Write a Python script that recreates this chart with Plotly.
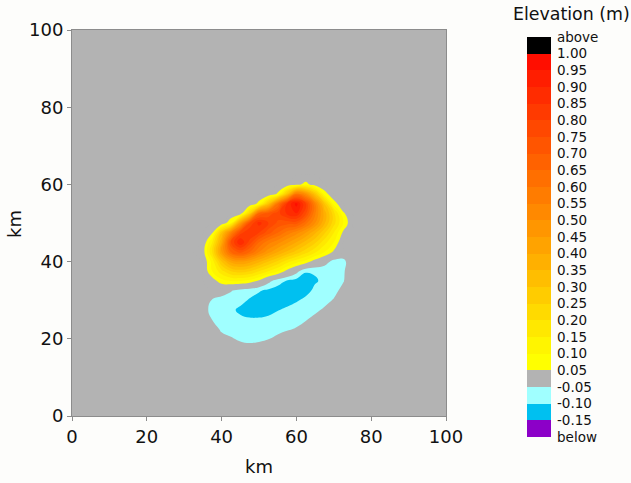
import plotly.graph_objects as go

# ---- grid (km); the 0 and 100 rows/columns are the flat background (0 m) ----
x_km = [0, 30, 32.5, 35, 37.5, 40, 42.5, 45, 47.5, 50, 52.5, 55, 57.5, 60, 62.5, 65, 67.5, 70, 72.5, 75, 77.5, 100]
y_km = [0, 15, 17.5, 20, 22.5, 25, 27.5, 30, 32.5, 35, 37.5, 40, 42.5, 45, 47.5, 50, 52.5, 55, 57.5, 60, 62.5, 65, 100]

# elevation (m), one row per y value
elev_y0 = [0, 0, 0, 0, 0, 0, 0, 0, 0, 0, 0, 0, 0, 0, 0, 0, 0, 0, 0, 0, 0, 0]
elev_y15 = [0, 0, 0, 0, 0, 0, 0, 0, 0, 0, 0, 0, 0, 0, 0, 0, 0, 0, 0, 0, 0, 0]
elev_y17 = [0, 0, 0, 0, 0, 0, -0.01, -0.03, -0.035, -0.03, -0.02, -0.01, 0, 0, 0, 0, 0, 0, 0, 0, 0, 0]
elev_y20 = [0, 0, 0, 0, -0.01, -0.03, -0.045, -0.058, -0.062, -0.06, -0.052, -0.04, -0.02, 0, 0, 0, 0, 0, 0, 0, 0, 0]
elev_y22 = [0, 0, 0, 0, -0.02, -0.06, -0.07, -0.075, -0.075, -0.072, -0.068, -0.062, -0.056, -0.045, -0.02, 0, 0, 0, 0, 0, 0, 0]
elev_y25 = [0, 0, 0, 0, -0.052, -0.07, -0.08, -0.09, -0.095, -0.095, -0.09, -0.085, -0.08, -0.07, -0.055, -0.03, 0, 0, 0, 0, 0, 0]
elev_y27 = [0, 0, 0, -0.01, -0.08, -0.08, -0.09, -0.11, -0.12, -0.12, -0.115, -0.102, -0.09, -0.08, -0.07, -0.065, -0.04, 0, 0, 0, 0, 0]
elev_y30 = [0, 0, 0, 0, -0.055, -0.07, -0.08, -0.085, -0.105, -0.12, -0.13, -0.13, -0.12, -0.105, -0.09, -0.08, -0.07, -0.045, 0, 0, 0, 0]
elev_y32 = [0, 0, 0, 0, 0, -0.02, -0.045, -0.07, -0.08, -0.095, -0.11, -0.12, -0.13, -0.13, -0.115, -0.09, -0.08, -0.07, -0.03, 0, 0, 0]
elev_y35 = [0, 0, 0, 0, 0.02, 0.08, 0.1, 0.1, 0.08, 0.04, -0.03, -0.08, -0.105, -0.12, -0.125, -0.105, -0.09, -0.08, -0.055, 0, 0, 0]
elev_y37 = [0, 0, 0, 0, 0.1, 0.18, 0.25, 0.27, 0.25, 0.2, 0.15, 0.1, 0.03, -0.03, -0.095, -0.095, -0.09, -0.08, -0.06, 0, 0, 0]
elev_y40 = [0, 0, 0, 0, 0.12, 0.3, 0.42, 0.45, 0.42, 0.36, 0.3, 0.24, 0.17, 0.12, 0.08, 0.02, -0.02, -0.07, -0.07, 0, 0, 0]
elev_y42 = [0, 0, 0, 0.02, 0.2, 0.45, 0.65, 0.72, 0.65, 0.55, 0.47, 0.4, 0.34, 0.28, 0.22, 0.16, 0.1, 0.04, 0, 0, 0, 0]
elev_y45 = [0, 0, 0, 0, 0.15, 0.4, 0.75, 0.9, 0.78, 0.65, 0.57, 0.52, 0.46, 0.4, 0.33, 0.26, 0.17, 0.1, 0, 0, 0, 0]
elev_y47 = [0, 0, 0, 0, 0.04, 0.3, 0.55, 0.78, 0.85, 0.8, 0.72, 0.65, 0.58, 0.52, 0.45, 0.36, 0.26, 0.15, 0.04, 0, 0, 0]
elev_y50 = [0, 0, 0, 0, 0, 0, 0.1, 0.45, 0.75, 0.87, 0.8, 0.74, 0.72, 0.72, 0.62, 0.5, 0.36, 0.22, 0.1, 0, 0, 0]
elev_y52 = [0, 0, 0, 0, 0, 0, 0, 0, 0.25, 0.65, 0.72, 0.78, 0.86, 0.9, 0.76, 0.56, 0.38, 0.22, 0.06, 0, 0, 0]
elev_y55 = [0, 0, 0, 0, 0, 0, 0, 0, 0, 0.07, 0.3, 0.6, 0.85, 0.97, 0.8, 0.55, 0.3, 0.08, 0, 0, 0, 0]
elev_y57 = [0, 0, 0, 0, 0, 0, 0, 0, 0, 0, 0, 0.06, 0.3, 0.6, 0.5, 0.3, 0.08, 0, 0, 0, 0, 0]
elev_y60 = [0, 0, 0, 0, 0, 0, 0, 0, 0, 0, 0, 0, 0, 0.03, 0.07, 0.02, 0, 0, 0, 0, 0, 0]
elev_y62 = [0, 0, 0, 0, 0, 0, 0, 0, 0, 0, 0, 0, 0, 0, 0, 0, 0, 0, 0, 0, 0, 0]
elev_y65 = [0, 0, 0, 0, 0, 0, 0, 0, 0, 0, 0, 0, 0, 0, 0, 0, 0, 0, 0, 0, 0, 0]
elev_y100 = [0, 0, 0, 0, 0, 0, 0, 0, 0, 0, 0, 0, 0, 0, 0, 0, 0, 0, 0, 0, 0, 0]

elevation = [elev_y0, elev_y15, elev_y17, elev_y20, elev_y22, elev_y25, elev_y27, elev_y30,
             elev_y32, elev_y35, elev_y37, elev_y40, elev_y42, elev_y45, elev_y47,
             elev_y50, elev_y52, elev_y55, elev_y57, elev_y60, elev_y62, elev_y65, elev_y100]

axis_ticks = [0, 20, 40, 60, 80, 100]

# ---- colour classes ----
c_below = "rgb(140,0,200)"
c_m15 = "rgb(0,192,240)"
c_m10 = "rgb(160,255,255)"
c_zero = "rgb(179,179,179)"
c_above = "rgb(0,0,0)"
ramp = ["rgb(255,255,0)", "rgb(255,245,0)", "rgb(255,232,0)", "rgb(255,218,0)",
        "rgb(255,204,0)", "rgb(255,190,0)", "rgb(255,176,0)", "rgb(255,163,0)",
        "rgb(255,150,0)", "rgb(255,137,0)", "rgb(255,124,0)", "rgb(255,111,0)",
        "rgb(255,98,0)", "rgb(255,85,0)", "rgb(255,72,0)", "rgb(255,58,0)",
        "rgb(255,44,0)", "rgb(255,30,0)", "rgb(255,14,0)"]

legend_labels = ["below", "-0.15", "-0.10", "-0.05", "0.05", "0.10", "0.15", "0.20",
                 "0.25", "0.30", "0.35", "0.40", "0.45", "0.50", "0.55", "0.60",
                 "0.65", "0.70", "0.75", "0.80", "0.85", "0.90", "0.95", "1.00", "above"]

# contour bands: below -0.15, then every 0.05 up to 1.00, then above
contour_colors = [c_below, c_m15, c_m10, c_zero, c_zero] + ramp + [c_above]
nb = len(contour_colors) - 1
contour_scale = [[i / nb, c] for i, c in enumerate(contour_colors)]

# legend classes (gray class spans -0.05..0.05)
legend_colors = [c_below, c_m15, c_m10, c_zero] + ramp + [c_above]
nl = len(legend_colors) - 1
legend_scale = []
for i, c in enumerate(legend_colors):
    legend_scale.append([i / (nl + 1), c])
    legend_scale.append([(i + 1) / (nl + 1), c])
legend_idx = list(range(len(legend_colors)))

FONT = "DejaVu Sans"
fig = go.Figure()

fig.add_trace(go.Contour(
    x=x_km, y=y_km, z=elevation,
    autocontour=False,
    contours=dict(start=-0.15, end=1.0, size=0.05, coloring="fill", showlines=False),
    colorscale=contour_scale,
    line=dict(width=0, smoothing=1.3),
    showscale=False, hoverinfo="skip",
    xaxis="x", yaxis="y",
))

fig.add_trace(go.Heatmap(
    x=[0], y=[i + 0.5 for i in legend_idx], z=[[i] for i in legend_idx],
    colorscale=legend_scale, zmin=-0.5, zmax=nl + 0.5,
    showscale=False, hoverinfo="skip",
    xaxis="x2", yaxis="y2",
))

W, H = 631, 483
ml, mr, mt, mb = 72, 80, 30, 46
pw, ph = W - ml - mr, H - mt - mb

def px_x(p):
    return (p - ml) / pw

def px_y(p):
    return (H - mb - p) / ph

axis_common = dict(
    range=[0, 100], tickvals=axis_ticks, ticks="outside", ticklen=4,
    tickcolor="#8c8c8c", showline=True, linecolor="#8c8c8c", linewidth=1,
    mirror=True, showgrid=False, zeroline=False, automargin=False,
    tickfont=dict(family=FONT, size=18, color="#111"),
)

fig.update_layout(
    width=W, height=H,
    margin=dict(l=ml, r=mr, t=mt, b=mb, autoexpand=False),
    paper_bgcolor="#fdfdfb",
    plot_bgcolor=c_zero,
    showlegend=False,
    xaxis=dict(domain=[0, px_x(446)], anchor="y", **axis_common),
    yaxis=dict(domain=[px_y(416), 1], anchor="x", **axis_common),
    xaxis2=dict(domain=[px_x(527), px_x(551)], anchor="y2", range=[-0.5, 0.5],
                visible=False, automargin=False),
    yaxis2=dict(domain=[px_y(437), px_y(37)], anchor="x2", range=[0, len(legend_colors)],
                side="right", tickvals=list(range(len(legend_labels))),
                ticktext=legend_labels, showgrid=False, zeroline=False,
                showline=False, ticks="", ticklabelstandoff=5, automargin=False,
                tickfont=dict(family=FONT, size=13.5, color="#111")),
    annotations=[
        dict(text="Elevation (m)", xref="paper", yref="paper", x=px_x(511), y=px_y(14),
             xanchor="left", yanchor="middle", showarrow=False,
             font=dict(family=FONT, size=17.4, color="#111")),
        dict(text="km", xref="paper", yref="paper", x=px_x(259), y=px_y(466),
             xanchor="center", yanchor="middle", showarrow=False,
             font=dict(family=FONT, size=18, color="#111")),
        dict(text="km", xref="paper", yref="paper", x=px_x(15), y=px_y(224),
             xanchor="center", yanchor="middle", showarrow=False, textangle=-90,
             font=dict(family=FONT, size=18, color="#111")),
    ],
)

fig.write_html("out.html",
               config={"displayModeBar": False, "staticPlot": True},
               post_script="document.body.style.margin='0';document.body.style.overflow='hidden';")
